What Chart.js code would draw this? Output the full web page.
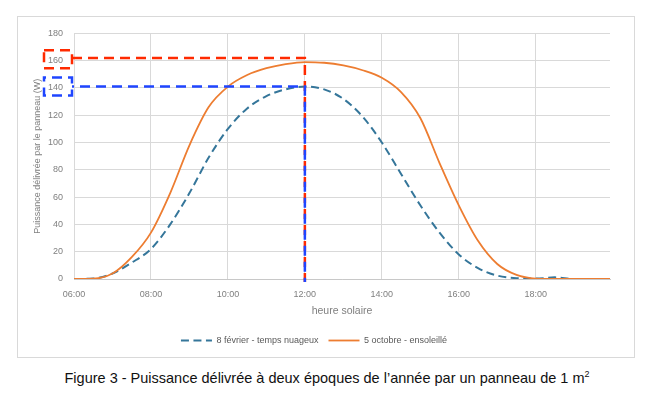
<!DOCTYPE html>
<html>
<head>
<meta charset="utf-8">
<script src="https://cdn.jsdelivr.net/npm/chart.js@4"></script>
<style>
  body { margin: 0; background: #fff; width: 654px; height: 394px; position: relative; overflow: hidden; }
  #frame { position: absolute; left: 17px; top: 16px; width: 618px; height: 342px; box-sizing: border-box; border: 1px solid #d9d9d9; }
  #chart { display: block; }
  #caption { position: absolute; left: 0; top: 369px; width: 654px; text-align: center; font: 14.5px "Liberation Sans", Arial, sans-serif; line-height: 18px; color: #111; }
  #caption sup { font-size: 9px; vertical-align: 6px; line-height: 0; }
</style>
</head>
<body>
<div id="frame"><canvas id="chart" width="616" height="340"></canvas></div>
<div id="caption">Figure 3 - Puissance délivrée à deux époques de l’année par un panneau de 1 m<sup>2</sup></div>
<script>
// heure solaire (h)
const hours = [6, 6.5, 7, 7.5, 8, 8.5, 9, 9.5, 10, 10.5, 11, 11.5, 12, 12.5, 13, 13.5, 14, 14.5, 15, 15.5, 16, 16.5, 17, 17.5, 18, 18.5, 19, 19.5, 19.93];
// puissance (W)
const fevrier = [0, 0.3, 4, 12, 22, 40, 63, 89, 110, 125, 134, 139, 141, 139, 132, 119, 100, 77, 54, 34, 18, 8, 2.5, 0.6, 0.3, 1.2, 0, 0, 0];
const octobre = [0, 0.2, 4, 16, 34, 63, 98, 126, 141, 149.5, 154.5, 157.5, 159, 158.5, 156.5, 153, 147.5, 137, 118, 85, 54, 28, 11, 3, 0.3, 0, 0, 0, 0];
const seriesNames = ['8 février - temps nuageux', '5 octobre - ensoleillé'];
const yTicks = [0, 20, 40, 60, 80, 100, 120, 140, 160, 180];
// lecture des maximums à midi
const peakHour = 12;
const peakLevels = [162, 141];
const boxedTicks = [160, 140];

const toPoints = vals => vals.map((v, i) => ({ x: hours[i], y: v }));

const peakLines = {
    id: 'peakLines',
    afterDatasetsDraw(chart) {
        const { ctx, chartArea, scales } = chart;
        const colors = ['#ff2a00', '#1f45ff'];
        const xPeak = scales.x.getPixelForValue(peakHour);
        const yZero = scales.y.getPixelForValue(0);
        ctx.save();
        ctx.lineWidth = 2.5;
        ctx.setLineDash([10, 6]);
        peakLevels.forEach((level, i) => {
            const yLine = scales.y.getPixelForValue(level);
            const yTick = scales.y.getPixelForValue(boxedTicks[i]);
            ctx.strokeStyle = colors[i];
            ctx.lineDashOffset = i * 8;
            ctx.beginPath();
            ctx.moveTo(chartArea.left - 2, yLine);
            ctx.lineTo(xPeak, yLine);
            ctx.lineTo(xPeak, yZero + 3);
            ctx.stroke();
            ctx.beginPath();
            ctx.rect(chartArea.left - 30, yTick - 10.5, 28, 18);
            ctx.stroke();
        });
        ctx.restore();
    }
};

const font = { family: '"Liberation Sans", Arial, sans-serif' };

new Chart(document.getElementById('chart'), {
    type: 'line',
    data: {
        datasets: [{
            label: seriesNames[0],
            data: toPoints(fevrier),
            borderColor: '#35769a',
            backgroundColor: '#35769a',
            borderWidth: 2,
            borderDash: [8, 4.5],
            pointRadius: 0,
            cubicInterpolationMode: 'monotone',
            order: 1
        }, {
            label: seriesNames[1],
            data: toPoints(octobre),
            borderColor: '#ed7d31',
            backgroundColor: '#ed7d31',
            borderWidth: 1.8,
            pointRadius: 0,
            cubicInterpolationMode: 'monotone',
            order: 0
        }]
    },
    options: {
        responsive: false,
        animation: false,
        devicePixelRatio: 1,
        layout: { padding: { left: 0, right: 24, top: 12, bottom: 2 } },
        plugins: {
            tooltip: { enabled: false },
            legend: {
                position: 'bottom',
                labels: {
                    usePointStyle: true,
                    pointStyle: 'line',
                    pointStyleWidth: 31,
                    boxHeight: 8,
                    padding: 10,
                    color: '#595959',
                    font: { ...font, size: 9 },
                    generateLabels: chart => Chart.defaults.plugins.legend.labels.generateLabels(chart).map(item => {
                        const ds = chart.data.datasets[item.datasetIndex];
                        return { ...item, lineDash: ds.borderDash || [], lineWidth: ds.borderWidth, strokeStyle: ds.borderColor };
                    }),
                    sort: (a, b) => a.datasetIndex - b.datasetIndex
                }
            }
        },
        scales: {
            x: {
                type: 'linear',
                min: 6,
                max: 19.93,
                afterBuildTicks: scale => {
                    scale.ticks = scale.ticks.filter(t => t.value % 2 === 0 && t.value <= 18);
                },
                afterFit: scale => { scale.height = 47; },
                ticks: {
                    stepSize: 2,
                    padding: 10,
                    color: '#7f7f7f',
                    font: { ...font, size: 9 },
                    maxRotation: 0,
                    callback: v => String(v).padStart(2, '0') + ':00'
                },
                grid: { color: '#d9d9d9', drawTicks: false },
                border: { color: '#c8c8c8' },
                title: {
                    display: true,
                    text: 'heure solaire',
                    color: '#7f7f7f',
                    font: { ...font, size: 10.5, lineHeight: 1.2 },
                    padding: { top: 4, bottom: 9 }
                }
            },
            y: {
                min: 0,
                max: 180,
                afterBuildTicks: scale => {
                    scale.ticks = yTicks.map(v => ({ value: v }));
                },
                afterFit: scale => { scale.width = 56; },
                ticks: {
                    padding: 11,
                    color: '#7f7f7f',
                    font: { ...font, size: 9 }
                },
                grid: { color: '#d9d9d9', drawTicks: false },
                border: { display: false },
                title: {
                    display: true,
                    text: 'Puissance délivrée par le panneau (W)',
                    color: '#7f7f7f',
                    font: { ...font, size: 9, lineHeight: 1.2 },
                    padding: { top: 14, bottom: 0 }
                }
            }
        }
    },
    plugins: [peakLines]
});
</script>
</body>
</html>
